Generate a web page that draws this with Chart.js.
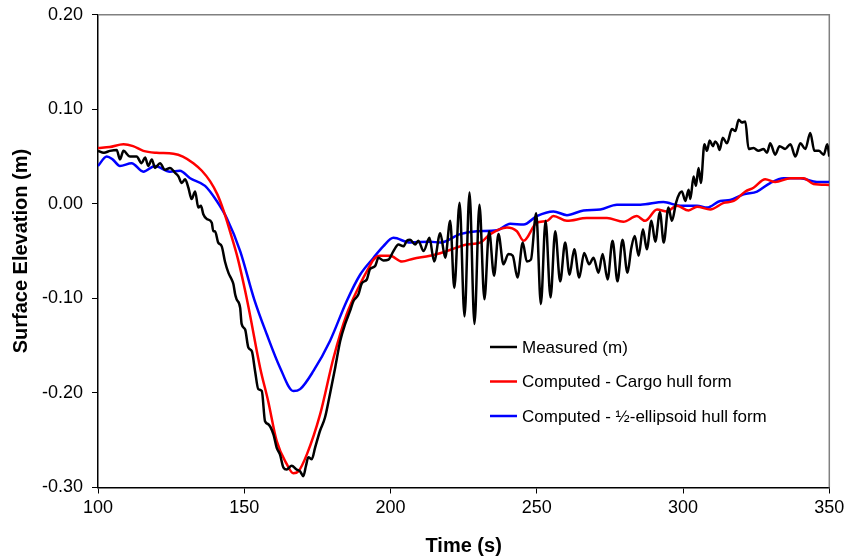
<!DOCTYPE html>
<html>
<head>
<meta charset="utf-8">
<script src="https://cdn.jsdelivr.net/npm/chart.js@4.4.1/dist/chart.umd.min.js"></script>
<style>
  body { margin: 0; background: #fff; }
  #wrap { width: 847px; height: 559px; }
</style>
</head>
<body>
<div id="wrap"><canvas id="bieuDo"></canvas></div>
<script>
// Measured (m)
const tMeasured = [100, 102, 104.1, 106.4, 107.5, 108.7, 110.9, 113.2, 114.9, 116.1, 117.2, 118.4, 119.5, 121.2, 122.9,
    124.6, 126.3, 127.5, 128.6, 129.8, 130.9, 132, 133.2, 134.3, 135.2, 136, 137.2, 138.9, 139.4, 140, 141.1, 142.3,
    143.4, 144.6, 145.7, 146.3, 146.9, 147.4, 148.6, 149.1, 150.3, 151.4, 152.6, 153.7, 154.8, 156, 157.1, 158.2, 160,
    161.1, 162.2, 163.4, 164.5, 166.2, 167.9, 169.1, 170.2, 171.1, 171.9, 173.1, 174.2, 175.9, 177.6, 179.3, 181.1,
    182.8, 184.5, 186.2, 187.3, 189, 190.2, 191.9, 193, 194.7, 195.9, 197.6, 199.3, 201, 202.7, 204.4, 205.6, 206.7,
    208.4, 209.5, 211.3, 213.3, 214.9, 217, 218.7, 220.4, 221.8, 223.6, 225.3, 227, 228.7, 230.4, 232.1, 233.7, 235.4,
    236.9, 238.6, 240.3, 241.8, 243.4, 245.2, 246.6, 248, 249.8, 251.4, 253, 254.7, 256.3, 258, 259.7, 261.2, 262.8,
    264.5, 266.2, 267.9, 269.4, 271.1, 272.5, 274.2, 275.9, 277.6, 279.3, 281, 282.3, 283.5, 284.8, 286.3, 287.6,
    289.2, 290.5, 292.1, 293.4, 295, 296.2, 297.6, 298.8, 299.6, 300.8, 301.9, 302.5, 303.6, 304.4, 305.3, 306.1,
    307.3, 308.2, 309.1, 310.2, 311, 311.8, 312.5, 313.6, 315, 316.7, 317.9, 319, 320.1, 321.3, 322.4, 324.1, 325.8,
    327.5, 328.7, 329.8, 331.5, 333, 334.9, 336.7, 338.4, 340.1, 341.8, 343.5, 344.9, 346.4, 348.1, 349.3, 350];
const yMeasured = [0.056, 0.054, 0.056, 0.057, 0.047, 0.056, 0.050, 0.050, 0.043, 0.049, 0.040, 0.047, 0.038, 0.043, 0.036,
    0.038, 0.033, 0.029, 0.022, 0.026, 0.017, 0.005, 0.013, -0.004, -0.002, -0.011, -0.016, -0.020, -0.029, -0.029, -0.041, -0.045,
    -0.061, -0.073, -0.080, -0.085, -0.096, -0.101, -0.110, -0.127, -0.133, -0.152, -0.156, -0.177, -0.196, -0.198, -0.230, -0.233, -0.244,
    -0.258, -0.265, -0.279, -0.281, -0.277, -0.281, -0.283, -0.288, -0.277, -0.268, -0.270, -0.258, -0.240, -0.226, -0.201, -0.173,
    -0.145, -0.127, -0.113, -0.103, -0.096, -0.084, -0.080, -0.069, -0.066, -0.057, -0.060, -0.059, -0.050, -0.043, -0.045, -0.039, -0.038,
    -0.043, -0.039, -0.050, -0.036, -0.061, -0.031, -0.057, -0.018, -0.089, 0.001, -0.119, 0.012, -0.127, -0.001, -0.101, -0.029, -0.076,
    -0.032, -0.064, -0.053, -0.055, -0.078, -0.041, -0.061, -0.059, -0.010, -0.106, -0.018, -0.099, -0.029, -0.082, -0.041, -0.075, -0.048,
    -0.078, -0.052, -0.064, -0.057, -0.073, -0.053, -0.080, -0.039, -0.082, -0.038, -0.073, -0.047, -0.034, -0.055, -0.027, -0.048,
    -0.018, -0.040, -0.009, -0.041, -0.004, -0.018, 0.001, 0.011, 0.013, 0.003, 0.015, 0.005, 0.029, 0.019, 0.038, 0.022,
    0.063, 0.056, 0.067, 0.061, 0.066, 0.063, 0.057, 0.070, 0.064, 0.079, 0.077, 0.089, 0.086, 0.087, 0.058, 0.059, 0.056,
    0.058, 0.054, 0.064, 0.052, 0.061, 0.058, 0.063, 0.050, 0.064, 0.058, 0.075, 0.056, 0.056, 0.052, 0.063, 0.050];

// Computed - Cargo hull form
const tCargo = [100, 104, 108.7, 112, 115.5, 120, 125.8, 129, 132.6, 135.5, 138.3, 140.8, 142.9, 145.2, 147.8, 150.3, 152,
    155.4, 158.2, 161.1, 164.5, 166.8, 168.5, 171.4, 175.9, 180.5, 185, 189.6, 192.5, 194.2, 196.4, 199.9, 203.9, 207.8,
    213.5, 219.2, 226.1, 230.6, 234.1, 239.8, 243.2, 245.5, 250, 253.5, 255.7, 260.3, 267.1, 274, 279.6, 284.2, 287,
    291.1, 294.5, 297.9, 301.9, 304.8, 309.3, 313.9, 317.3, 321.3, 324.1, 328.1, 331.5, 336.7, 341.2, 344.6, 350];
const yCargo = [0.059, 0.060, 0.063, 0.061, 0.056, 0.054, 0.053, 0.050, 0.043, 0.035, 0.024, 0.010, -0.007, -0.030, -0.058, -0.092, -0.118,
    -0.173, -0.209, -0.251, -0.275, -0.285, -0.283, -0.265, -0.223, -0.163, -0.117, -0.085, -0.068, -0.059, -0.055, -0.055, -0.061, -0.058,
    -0.055, -0.050, -0.043, -0.041, -0.032, -0.025, -0.029, -0.039, -0.020, -0.018, -0.013, -0.018, -0.015, -0.015, -0.019, -0.013, -0.018,
    -0.006, -0.008, -0.002, -0.007, -0.003, -0.006, 0.001, 0.003, 0.013, 0.017, 0.026, 0.023, 0.027, 0.027, 0.021, 0.020];

// Computed - ½-ellipsoid hull form
const tEllipsoid = [100, 103, 105, 107.5, 111.5, 115.5, 119.5, 124.6, 128, 131.5, 136.6, 140.6, 144, 148.6, 153.4, 157.7,
    162.2, 166.8, 169.1, 173.6, 179.3, 185, 189.6, 194.2, 197.5, 201, 206.7, 213.5, 217, 223.8, 229.5, 236.4, 240.9,
    245.5, 250, 255.7, 260.3, 266, 271.7, 277.4, 285.4, 293.3, 299, 304.8, 308.2, 312.7, 316.1, 320.7, 325.3, 329.8,
    334.4, 340.1, 345.8, 350];
const yEllipsoid = [0.040, 0.050, 0.047, 0.040, 0.043, 0.034, 0.040, 0.034, 0.035, 0.027, 0.019, 0.003, -0.015, -0.050, -0.101, -0.138,
    -0.173, -0.198, -0.196, -0.177, -0.145, -0.103, -0.075, -0.057, -0.045, -0.036, -0.041, -0.040, -0.041, -0.032, -0.029, -0.028, -0.021,
    -0.022, -0.013, -0.008, -0.012, -0.007, -0.006, -0.001, -0.001, 0.002, -0.002, -0.002, -0.004, 0.003, 0.004, 0.010, 0.013, 0.022,
    0.027, 0.027, 0.023, 0.023];

const xTicks = [100, 150, 200, 250, 300, 350];
const yTicks = [-0.30, -0.20, -0.10, 0.00, 0.10, 0.20];

function ghep(ts, ys) {
    return ts.map((t, i) => ({ x: t, y: ys[i] }));
}

const phongChu = '"Liberation Sans", Arial, sans-serif';

// khung xám phía trên và bên phải + chú giải trong vùng vẽ
const khungVaChuGiai = {
    id: 'khungVaChuGiai',
    beforeDatasetsDraw(chart) {
        const { ctx, chartArea: a } = chart;
        ctx.save();
        ctx.strokeStyle = '#808080';
        ctx.lineWidth = 1.5;
        ctx.beginPath();
        ctx.moveTo(a.left, a.top);
        ctx.lineTo(a.right, a.top);
        ctx.lineTo(a.right, a.bottom);
        ctx.stroke();
        ctx.restore();
    },
    afterDraw(chart) {
        const { ctx } = chart;
        ctx.save();
        ctx.font = '17px ' + phongChu;
        ctx.textBaseline = 'middle';
        chart.data.datasets.forEach((ds, i) => {
            const y = 347 + i * 34.5;
            ctx.strokeStyle = ds.borderColor;
            ctx.lineWidth = 2.5;
            ctx.beginPath();
            ctx.moveTo(490, y);
            ctx.lineTo(517, y);
            ctx.stroke();
            ctx.fillStyle = '#000';
            ctx.fillText(ds.label, 522, y + 1);
        });
        ctx.restore();
    }
};

new Chart(document.getElementById('bieuDo').getContext('2d'), {
    type: 'line',
    data: {
        datasets: [
            { label: 'Measured (m)', data: ghep(tMeasured, yMeasured), borderColor: '#000000', borderWidth: 2.5 },
            { label: 'Computed - Cargo hull form', data: ghep(tCargo, yCargo), borderColor: '#ff0000', borderWidth: 2.5 },
            { label: 'Computed - ½-ellipsoid hull form', data: ghep(tEllipsoid, yEllipsoid), borderColor: '#0000ff', borderWidth: 2.5 }
        ]
    },
    options: {
        responsive: true,
        maintainAspectRatio: false,
        animation: false,
        layout: { padding: { left: 0, top: 14.7, right: 17.7, bottom: 0 } },
        elements: {
            point: { radius: 0 },
            line: { cubicInterpolationMode: 'monotone', fill: false }
        },
        plugins: {
            legend: { display: false },
            tooltip: { enabled: false }
        },
        scales: {
            x: {
                type: 'linear',
                min: 100,
                max: 350,
                afterBuildTicks: (s) => { s.ticks = xTicks.map(v => ({ value: v })); },
                afterFit: (s) => { s.height = 71.5; s.paddingLeft = 0; s.paddingRight = 0; },
                grid: { drawOnChartArea: false, drawTicks: true, tickLength: 6, color: '#000', lineWidth: 1 },
                border: { color: '#000', width: 1.5 },
                ticks: { color: '#000', padding: 4, maxRotation: 0, font: { family: phongChu, size: 18 } },
                title: {
                    display: true, text: 'Time (s)', color: '#000',
                    font: { family: phongChu, size: 20, weight: 'bold', lineHeight: 1.2 },
                    padding: { top: 0, bottom: 1 }
                }
            },
            y: {
                min: -0.3,
                max: 0.2,
                afterBuildTicks: (s) => { s.ticks = yTicks.map(v => ({ value: v })); },
                afterFit: (s) => { s.width = 98; s.paddingTop = 0; s.paddingBottom = 0; },
                grid: { drawOnChartArea: false, drawTicks: true, tickLength: 6, color: '#000', lineWidth: 1 },
                border: { color: '#000', width: 1.5 },
                ticks: {
                    color: '#000', padding: 9, font: { family: phongChu, size: 18 },
                    callback: (v) => Number(v).toFixed(2)
                },
                title: {
                    display: true, text: 'Surface Elevation (m)', color: '#000',
                    font: { family: phongChu, size: 20, weight: 'bold', lineHeight: 1.2 },
                    padding: { top: 9, bottom: 0 }
                }
            }
        }
    },
    plugins: [khungVaChuGiai]
});
</script>
</body>
</html>
